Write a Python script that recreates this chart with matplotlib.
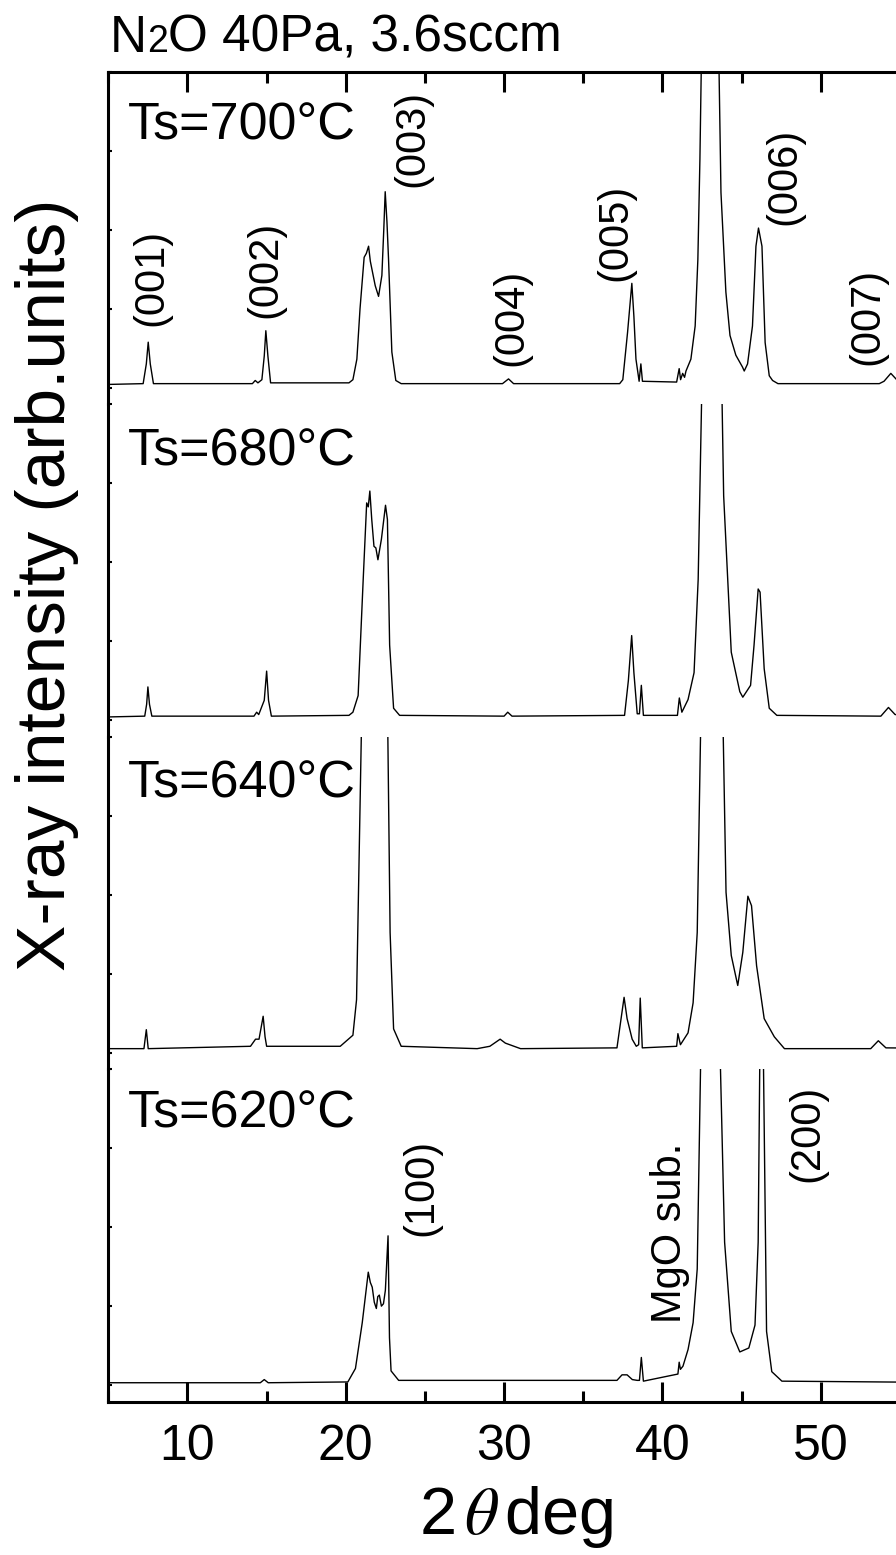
import matplotlib
matplotlib.use("Agg")
import matplotlib.pyplot as plt
from matplotlib.ticker import FixedLocator

plt.rcParams['font.family'] = ['Liberation Sans', 'DejaVu Sans']
plt.rcParams['mathtext.fontset'] = 'stix'

# XRD patterns (2theta in deg, intensity in arb. units per panel)
tt_700 = [5.0, 7.2, 7.4, 7.52, 7.65, 7.85, 14.1, 14.28, 14.45, 14.7, 14.85, 14.95, 15.08, 15.25,
          20.2, 20.45, 20.7, 20.9, 21.16, 21.3, 21.44, 21.55, 21.69, 21.86, 22.07, 22.28, 22.4,
          22.49, 22.6, 22.7, 22.91, 23.16, 23.5, 29.9, 30.28, 30.6, 37.3, 37.5, 37.8, 38.07, 38.2,
          38.33, 38.53, 38.64, 38.74, 40.9, 41.06, 41.15, 41.28, 41.4, 41.49, 41.8, 42.07, 42.24,
          42.37, 42.49, 42.9, 43.54, 43.7, 44.01, 44.27, 44.64, 45.06, 45.17, 45.38, 45.69, 45.91,
          46.07, 46.29, 46.49, 46.75, 46.96, 47.3, 53.7, 54.0, 54.43, 54.8, 55.5, 60.0]
int_700 = [0.04, 0.05, 0.3, 0.575, 0.3, 0.05, 0.05, 0.09, 0.06, 0.1, 0.4, 0.72, 0.4, 0.06,
           0.06, 0.1, 0.36, 1.0, 1.65, 1.7, 1.79, 1.6, 1.46, 1.29, 1.155, 1.42, 2.0,
           2.48, 2.1, 1.63, 0.45, 0.09, 0.05, 0.05, 0.11, 0.05, 0.05, 0.1, 0.7, 1.32, 0.9,
           0.36, 0.08, 0.3, 0.08, 0.07, 0.24, 0.1, 0.18, 0.13, 0.21, 0.36, 0.78, 1.62,
           2.89, 4.5, 12.0, 4.5, 2.47, 1.21, 0.66, 0.41, 0.26, 0.21, 0.3, 0.78, 1.79,
           2.02, 1.79, 0.57, 0.15, 0.09, 0.05, 0.05, 0.08, 0.18, 0.1, 0.05, 0.05]

tt_680 = [5.0, 7.3, 7.42, 7.5, 7.6, 7.75, 14.2, 14.37, 14.5, 14.85, 15.0, 15.12, 15.3,
          20.2, 20.45, 20.78, 21.1, 21.32, 21.42, 21.52, 21.64, 21.78, 21.9, 22.03, 22.25, 22.51,
          22.63, 22.77, 23.02, 23.4, 30.0, 30.23, 30.5, 37.61, 37.85, 38.06, 38.2, 38.41, 38.55,
          38.67, 38.8, 40.95, 41.07, 41.23, 41.62, 42.0, 42.26, 42.52, 43.0, 43.73, 43.87, 44.35,
          44.89, 45.08, 45.57, 45.79, 46.05, 46.17, 46.43, 46.75, 47.23, 53.8, 54.28, 54.7, 60.0]
int_680 = [0.04, 0.05, 0.2, 0.42, 0.2, 0.05, 0.05, 0.1, 0.07, 0.25, 0.62, 0.25, 0.05,
           0.06, 0.1, 0.31, 1.78, 2.75, 2.7, 2.9, 2.54, 2.2, 2.18, 2.03, 2.29, 2.72,
           2.54, 0.95, 0.15, 0.06, 0.05, 0.1, 0.05, 0.06, 0.5, 1.07, 0.6, 0.08, 0.08,
           0.44, 0.06, 0.06, 0.28, 0.1, 0.26, 0.6, 1.78, 4.5, 12.0, 4.5, 2.84, 0.86,
           0.36, 0.29, 0.44, 0.95, 1.66, 1.62, 0.65, 0.15, 0.06, 0.05, 0.16, 0.07, 0.05]

tt_640 = [5.0, 7.25, 7.4, 7.52, 13.98, 14.3, 14.52, 14.78, 14.9, 15.0, 19.65, 20.45, 20.68,
          20.87, 21.07, 21.8, 22.6, 22.8, 23.02, 23.5, 28.3, 29.1, 29.75, 30.08, 31.04, 37.13,
          37.39, 37.58, 37.77, 38.09, 38.35, 38.5, 38.6, 38.73, 40.9, 40.98, 41.14, 41.62, 41.94,
          42.2, 42.45, 43.1, 43.8, 44.02, 44.35, 44.76, 45.08, 45.4, 45.63, 45.95, 46.43, 47.07,
          47.71, 53.16, 53.64, 54.12, 60.0]
int_640 = [0.05, 0.05, 0.29, 0.05, 0.08, 0.17, 0.17, 0.46, 0.2, 0.08, 0.08, 0.22, 0.67,
           2.78, 5.0, 15.0, 5.0, 1.52, 0.3, 0.08, 0.05, 0.08, 0.17, 0.12, 0.05, 0.06,
           0.43, 0.7, 0.43, 0.17, 0.08, 0.1, 0.69, 0.06, 0.08, 0.24, 0.1, 0.25, 0.63,
           1.52, 4.5, 12.0, 4.5, 2.03, 1.23, 0.85, 1.27, 1.98, 1.86, 1.1, 0.43, 0.2,
           0.05, 0.05, 0.15, 0.06, 0.05]

tt_620 = [5.0, 14.6, 14.85, 15.1, 20.13, 20.61, 21.04, 21.42, 21.55, 21.67, 21.8, 21.93, 22.02,
          22.12, 22.25, 22.38, 22.5, 22.67, 22.76, 22.86, 23.34, 37.13, 37.45, 37.77, 38.1, 38.41,
          38.55, 38.67, 38.8, 40.98, 41.06, 41.14, 41.3, 41.62, 41.94, 42.2, 42.45, 43.0, 43.61,
          43.93, 44.35, 44.89, 45.46, 45.85, 46.05, 46.17, 46.27, 46.36, 46.58, 46.91, 47.55, 60.0]
int_620 = [0.03, 0.03, 0.07, 0.03, 0.04, 0.21, 0.79, 1.43, 1.3, 1.24, 1.05, 0.97, 1.12,
           1.14, 1.0, 1.03, 1.2, 1.89, 0.6, 0.18, 0.06, 0.06, 0.13, 0.13, 0.07, 0.06,
           0.06, 0.35, 0.05, 0.14, 0.29, 0.2, 0.24, 0.45, 0.79, 1.47, 4.5, 12.0, 4.5,
           1.81, 0.68, 0.42, 0.47, 0.76, 1.81, 4.5, 10.0, 4.5, 0.68, 0.17, 0.05, 0.03]

temps = ["Ts=700°C", "Ts=680°C", "Ts=640°C", "Ts=620°C"]
temp_y = [3.14, 3.22, 3.23, 3.26]

# peak labels of the top (700 C) and bottom (620 C) patterns: (text, 2theta, height)
labels_700 = [("(001)", 7.69, 1.40), ("(002)", 14.95, 1.50), ("(003)", 24.21, 3.15),
              ("(004)", 30.43, 0.89), ("(005)", 37.06, 1.96), ("(006)", 47.69, 2.67),
              ("(007)", 52.96, 0.90)]
labels_620 = [("(100)", 24.78, 2.50), ("MgO sub.", 40.49, 1.93), ("(200)", 49.15, 3.19)]

series = [(tt_700, int_700), (tt_680, int_680), (tt_640, int_640), (tt_620, int_620)]
peak_labels = [labels_700, [], [], labels_620]

fig = plt.figure(figsize=(8.96, 15.55), dpi=100)
left, width = 0.1209, 0.9099
bottom0, panel_h = 0.09859, 0.21383

axes = []
for k, (tt, inten) in enumerate(series):
    ax = fig.add_axes([left, bottom0 + (3 - k) * panel_h, width, panel_h])
    ax.plot(tt, inten, color='black', lw=1.0)
    ax.set_xlim(5, 56.5)
    ax.set_ylim(-0.21, 4.0)
    ax.set_facecolor('none')

    for side in ['right', 'top', 'bottom']:
        ax.spines[side].set_visible(False)
    ax.spines['left'].set_linewidth(2.2)
    if k == 0:
        ax.spines['top'].set_visible(True)
        ax.spines['top'].set_linewidth(2.2)
    if k == 3:
        ax.spines['bottom'].set_visible(True)
        ax.spines['bottom'].set_linewidth(2.2)

    ax.set_yticks([0, 1, 2, 3, 4])
    ax.tick_params(axis='y', direction='in', length=3, width=1.5, labelleft=False)

    ax.xaxis.set_major_locator(FixedLocator([10, 20, 30, 40, 50]))
    ax.xaxis.set_minor_locator(FixedLocator([5, 15, 25, 35, 45, 55]))
    ax.tick_params(axis='x', which='both', direction='in', width=2.2,
                   top=(k == 0), bottom=(k == 3), labeltop=False, labelbottom=(k == 3),
                   labelsize=36, pad=16)
    ax.tick_params(axis='x', which='major', length=14.4)
    ax.tick_params(axis='x', which='minor', length=8)

    ax.text(6.21, temp_y[k], temps[k], fontsize=37.5, ha='left', va='baseline')
    for txt, x, y in peak_labels[k]:
        ax.text(x, y, txt, fontsize=30, rotation=90, ha='center', va='center')
    axes.append(ax)

axes[3].set_xlabel(r"2$\,\theta\,$deg", fontsize=48, labelpad=10)

fig.text(0.052, 0.624, "X-ray intensity (arb.units)", fontsize=50,
         rotation=90, ha='center', va='center')

# title, with a smaller "2" in N2O, all pieces on one baseline
title_y = 1 - 52 / 1555
x_pix = 110
renderer = fig.canvas.get_renderer()
for piece, size in [("N", 37), ("2", 27), ("O 40Pa, 3.6sccm", 37)]:
    t = fig.text(x_pix / 896, title_y, piece, fontsize=size, ha='left', va='baseline')
    x_pix = t.get_window_extent(renderer).x1

fig.savefig("out.png", dpi=100)
